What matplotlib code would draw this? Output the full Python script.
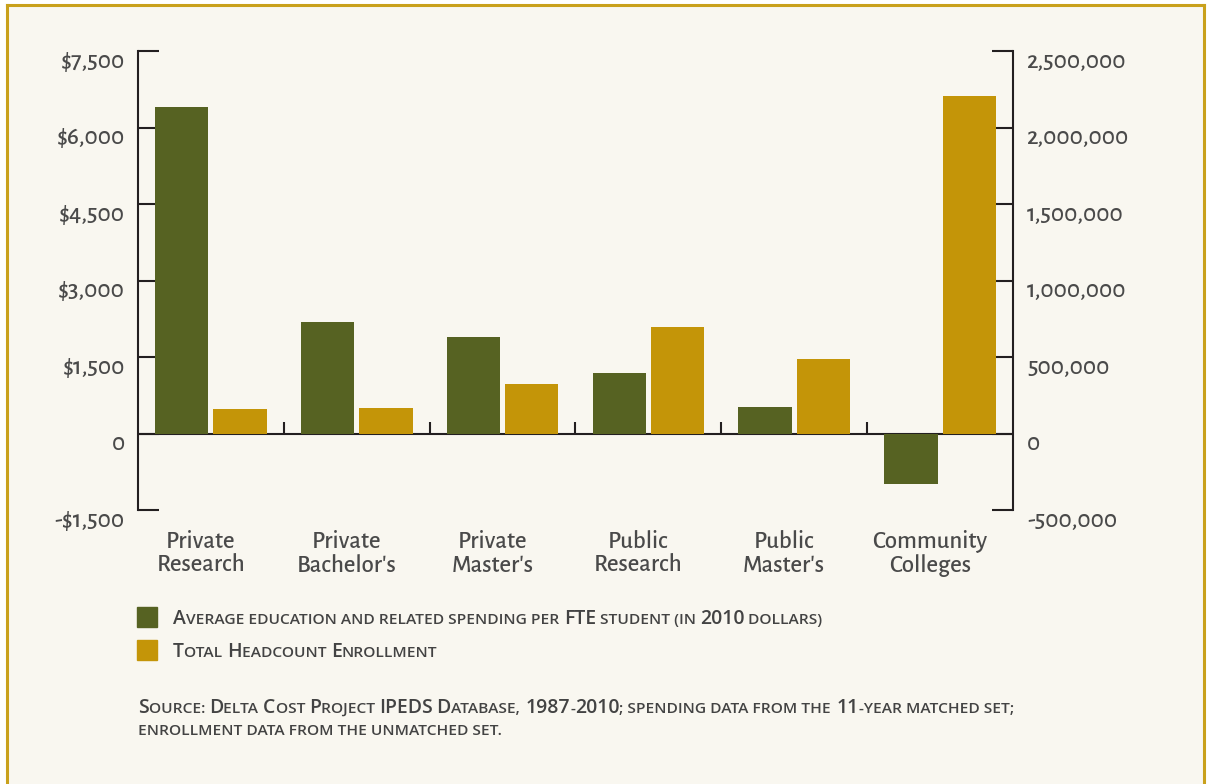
import re
import numpy as np
import matplotlib.pyplot as plt
from matplotlib.patches import Rectangle
from matplotlib.lines import Line2D
from matplotlib.transforms import ScaledTranslation
from matplotlib.font_manager import FontProperties, findfont
from matplotlib.ft2font import FT2Font

# spending per FTE (2010 $) on the left axis, headcount enrollment on the right
categories = ["Private\nResearch", "Private\nBachelor's", "Private\nMaster's",
              "Public\nResearch", "Public\nMaster's", "Community\nColleges"]
spending = [6400, 2190, 1900, 1190, 525, -985]
enrollment = [162000, 168000, 325000, 697000, 488000, 2207000]

left_ticks = [-1500, 0, 1500, 3000, 4500, 6000, 7500]
left_labels = ["-$1,500", "0", "$1,500", "$3,000", "$4,500", "$6,000", "$7,500"]
right_ticks = [-500000, 0, 500000, 1000000, 1500000, 2000000, 2500000]
right_labels = ["-500,000", "0", "500,000", "1,000,000", "1,500,000",
                "2,000,000", "2,500,000"]

legend_labels = ["Average education and related spending per FTE student (in 2010 dollars)",
                 "Total Headcount Enrollment"]
source_lines = ["Source: Delta Cost Project IPEDS Database, 1987-2010; spending data from the 11-year matched set;",
                "enrollment data from the unmatched set."]

GREEN = "#566222"
GOLD = "#c49508"
BG = "#f9f7f0"
INK = "#231f20"
TEXT = "#4a4a4a"

plt.rcParams['font.family'] = ['Alegreya Sans', 'Open Sans', 'DejaVu Sans']

W, H = 1207, 784
DPI = 100
fig = plt.figure(figsize=(W / DPI, H / DPI), dpi=DPI)
fig.patch.set_facecolor('white')


def fx(px):
    return px / W


def fy(py):
    return 1 - py / H


# cream panel with a gold frame (open at the bottom)
fig.add_artist(Rectangle((fx(7), 0), fx(1204 - 7), 1 - 5 / H,
                         transform=fig.transFigure, color=BG, zorder=-5))
frame = dict(transform=fig.transFigure, color="#c9a11c", lw=2.2, zorder=-4)
fig.add_artist(Line2D([fx(7), fx(7)], [0, fy(5)], **frame))
fig.add_artist(Line2D([fx(7), fx(1204)], [fy(5), fy(5)], **frame))
fig.add_artist(Line2D([fx(1204), fx(1204)], [0, fy(5)], **frame))

ax = fig.add_axes([fx(138), fy(510), fx(1013 - 138), (510 - 51) / H])
ax.set_facecolor('none')
x = np.arange(len(categories))
width = 0.365

ax.bar(x - 0.2, spending, width, color=GREEN, zorder=2)
ax.axhline(0, color=INK, lw=1.5, zorder=0.6)
# little upward marks between the groups
ax.vlines(x[:-1] + 0.5, 0, 235, color=INK, lw=1.5, zorder=0.6)
ax.set_xlim(-0.5, len(categories) - 0.5)
ax.set_ylim(-1500, 7500)

ax2 = ax.twinx()
ax2.bar(x + 0.2, enrollment, width, color=GOLD, zorder=2)
ax2.set_ylim(-500000, 2500000)

for a in (ax, ax2):
    a.set_axisbelow(True)
    for s in ('top', 'bottom'):
        a.spines[s].set_visible(False)
ax.spines['right'].set_visible(False)
ax2.spines['left'].set_visible(False)
ax.spines['left'].set_color(INK)
ax.spines['left'].set_linewidth(1.5)
ax2.spines['right'].set_color(INK)
ax2.spines['right'].set_linewidth(1.5)

ax.set_yticks(left_ticks)
ax.set_yticklabels(left_labels, fontweight='medium')
ax2.set_yticks(right_ticks)
ax2.set_yticklabels(right_labels, fontweight='medium')
ax.tick_params(axis='y', direction='in', length=15, width=1.5, color=INK,
               pad=9.5, labelsize=18, labelcolor=TEXT)
ax2.tick_params(axis='y', direction='in', length=15, width=1.5, color=INK,
                pad=10, labelsize=18, labelcolor=TEXT)
shift = ScaledTranslation(0, -8 / DPI, fig.dpi_scale_trans)
for lbl in ax.get_yticklabels() + ax2.get_yticklabels():
    lbl.set_transform(lbl.get_transform() + shift)

ax.set_xticks(x - 0.07)
ax.set_xticklabels(categories, fontsize=17.8, color=TEXT, linespacing=1.06,
                   fontweight='medium')
ax.tick_params(axis='x', length=0, pad=14.5)


# small caps: everything but capitals and digits is set as smaller capitals,
# each run placed after the glyph advance of the one before
def caps_font(size):
    return FontProperties(family=['Open Sans', 'DejaVu Sans'],
                          weight='semibold', size=size)


def advance(s, prop):
    ft = FT2Font(findfont(prop))
    ft.set_size(prop.get_size_in_points(), DPI)
    return sum(ft.load_char(ord(c)).linearHoriAdvance / 65536 for c in s)


def runs(s):
    return [(r.upper(), re.search(r'[A-Z0-9]', r) is None)
            for r in re.findall(r'[A-Z0-9]+|[^A-Z0-9]+', s)]


def caps_width(s, size, ratio):
    return sum(advance(t, caps_font(size * ratio if small else size))
               for t, small in runs(s))


def small_caps(x_px, y_px, s, size, ratio):
    xp = x_px
    for txt, small in runs(s):
        prop = caps_font(size * ratio if small else size)
        fig.text(fx(xp), fy(y_px), txt, fontproperties=prop, color="#434343",
                 ha='left', va='baseline')
        xp += advance(txt, prop)


RATIO = 0.8
# caption size set so the first legend line runs from x=173 to x=822
cap_size = 12 * (822 - 173) / caps_width(legend_labels[0], 12, RATIO)

for color, label, top, base in zip([GREEN, GOLD], legend_labels, [607, 640], [624, 657]):
    fig.add_artist(Rectangle((fx(137), fy(top + 20)), fx(20), 20 / H,
                             transform=fig.transFigure, color=color))
    small_caps(173, base, label, cap_size, RATIO)

for line, base in zip(source_lines, [713, 735]):
    small_caps(138, base, line, cap_size, RATIO)

fig.savefig('out.png', dpi=DPI, facecolor=fig.get_facecolor())
